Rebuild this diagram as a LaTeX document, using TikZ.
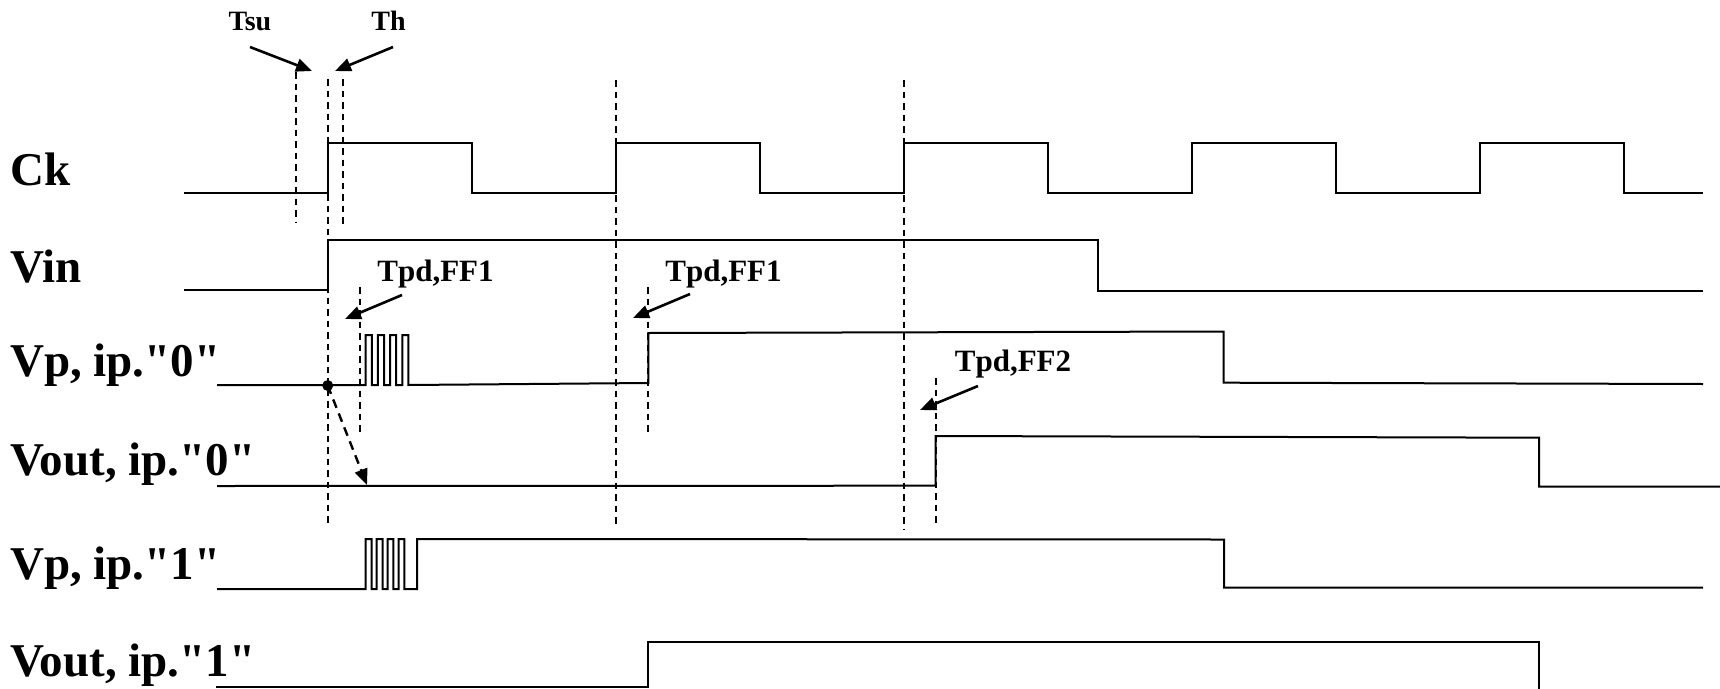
\documentclass[tikz,border=0pt]{standalone}
\usepackage{fontspec}
\setmainfont{Liberation Serif}[Ligatures=TeXOff]
\usetikzlibrary{arrows.meta}
\begin{document}
\begin{tikzpicture}[x=1pt,y=-1pt,
  sig/.style={line width=2pt,line join=miter},
  guide/.style={line width=1.8pt,dash pattern=on 6.5pt off 5pt},
  pointer/.style={line width=2.6pt,-{Triangle[length=16pt,width=13pt]}},
  dpointer/.style={line width=2.4pt,dash pattern=on 9pt off 6pt,-{Triangle[length=16pt,width=13pt]}},
  siglabel/.style={anchor=base west,inner sep=0pt,font=\bfseries\fontsize{47}{50}\selectfont},
  small/.style={anchor=base,inner sep=0pt,font=\bfseries\fontsize{28}{30}\selectfont},
  tpd/.style={anchor=base,inner sep=0pt,font=\bfseries\fontsize{31}{33}\selectfont}]
\useasboundingbox (0,0) rectangle (1720,688);

% signal labels
\node[siglabel] (lck) at (10,185) {Ck};
\node[siglabel] (lvin) at (10,282) {Vin};
\node[siglabel] (lvp0) at (10,376) {Vp, ip."0"};
\node[siglabel] (lvo0) at (10,475) {Vout, ip."0"};
\node[siglabel] (lvp1) at (10,579) {Vp, ip."1"};
\node[siglabel] (lvo1) at (10,676) {Vout, ip."1"};

% clock
\draw[sig] (184,192.7) -- (328,192.7) -- (328,142.7) -- (472,142.7) -- (472,192.7)
  -- (616,192.7) -- (616,142.7) -- (760,142.7) -- (760,192.7)
  -- (904,192.7) -- (904,142.7) -- (1048,142.7) -- (1048,192.7)
  -- (1192,192.7) -- (1192,142.7) -- (1336,142.7) -- (1336,192.7)
  -- (1480,192.7) -- (1480,142.7) -- (1624,142.7) -- (1624,192.7) -- (1703,192.7);

% Vin
\draw[sig] (184,290) -- (328,290) -- (328,239.5) -- (1097.5,239.5) -- (1097.5,290.5) -- (1703,290.5);

% Vp, ip."0"
\draw[sig] (217,385) -- (365.7,385) -- (365.7,335) -- (371.8,335) -- (371.8,385)
  -- (377.9,385) -- (377.9,335) -- (384,335) -- (384,385)
  -- (390.1,385) -- (390.1,335) -- (396.2,335) -- (396.2,385)
  -- (402.3,385) -- (402.3,335) -- (408.4,335) -- (408.4,385)
  -- (648.3,383) -- (648.3,333) -- (1223.5,331.5) -- (1223.5,382.7) -- (1703,384);

% Vout, ip."0"
\draw[sig] (217,486) -- (935.7,485.7) -- (935.7,436) -- (1539,437.7) -- (1539,486.5) -- (1720,486.5);

% Vp, ip."1"
\draw[sig] (217,589) -- (365.7,589) -- (365.7,539) -- (371.7,539) -- (371.7,589)
  -- (376.7,589) -- (376.7,539) -- (382.5,539) -- (382.5,589)
  -- (387.5,589) -- (387.5,539) -- (393.3,539) -- (393.3,589)
  -- (398.5,589) -- (398.5,539) -- (404.3,539) -- (404.3,589)
  -- (417,589) -- (417,539) -- (1224,539.5) -- (1224,587.7) -- (1703,587.7);

% Vout, ip."1"
\draw[sig] (216,687) -- (648,687) -- (648,641.5) -- (1539,641.5) -- (1539,690);

% dashed guide lines
\draw[guide] (296,72) -- (296,222);
\draw[guide] (328,79) -- (328,527);
\draw[guide] (343,79) -- (343,228);
\draw[guide] (360,287) -- (360,435);
\draw[guide] (616,80) -- (616,525);
\draw[guide] (648.3,287) -- (648.3,433);
\draw[guide] (904,80) -- (904,530);
\draw[guide] (936,378) -- (936,527);

% annotation texts
\node[small] (tsu) at (250,30) {Tsu};
\node[small] (th) at (388.5,30) {Th};
\node[tpd] (tpda) at (435.5,281) {Tpd,FF1};
\node[tpd] (tpdb) at (723.5,281) {Tpd,FF1};
\node[tpd] (tpdc) at (1013,371) {Tpd,FF2};

% arrow end points
\coordinate (tsuA) at (250,47);  \coordinate (tsuB) at (312,71);
\coordinate (thA) at (393,47);   \coordinate (thB) at (335,71);
\coordinate (paA) at (402,295);  \coordinate (paB) at (345,319);
\coordinate (pbA) at (690,294);  \coordinate (pbB) at (633,318);
\coordinate (pcA) at (978,386);  \coordinate (pcB) at (920,410);
\coordinate (dot) at (327.7,385.5); \coordinate (dotB) at (367,485);

\draw[pointer] (tsuA) -- (tsuB);
\draw[pointer] (thA) -- (thB);
\draw[pointer] (paA) -- (paB);
\draw[pointer] (pbA) -- (pbB);
\draw[pointer] (pcA) -- (pcB);
\fill (dot) circle (5.5pt);
\draw[dpointer] (dot) -- (dotB);
\end{tikzpicture}
\end{document}
